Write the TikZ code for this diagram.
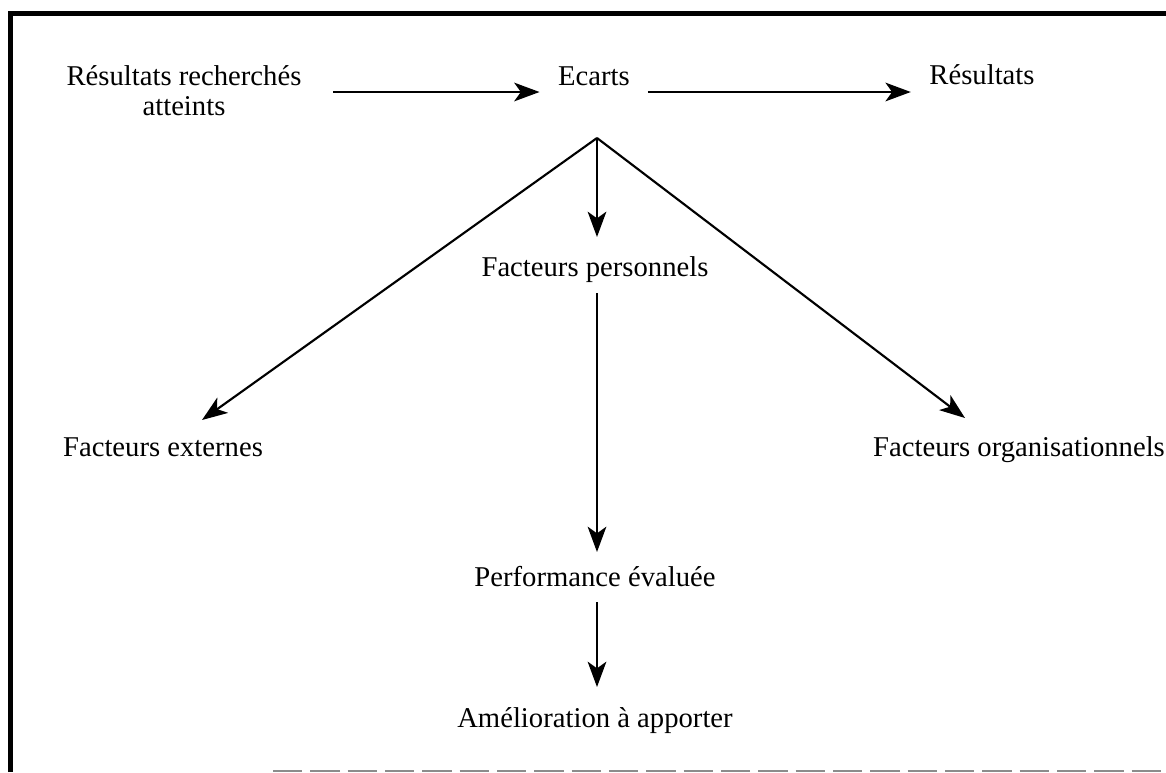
\documentclass[tikz,border=0pt]{standalone}
\usepackage{fontspec}
\setmainfont{Liberation Serif}
\usetikzlibrary{arrows.meta}
\begin{document}
\begin{tikzpicture}[x=0.75pt,y=-0.75pt,
  lbl/.style={inner sep=0pt,outer sep=0pt,font=\fontsize{21.5}{22.5}\selectfont},
  single/.style={lbl,text height=15pt,text depth=4.5pt,anchor=base},
  arr/.style={line width=1.6pt,-{Stealth[length=19pt,width=14pt,inset=5pt]}},
  frame/.style={line width=3.75pt},
  tornline/.style={line width=1.5pt,draw=black!45,dash pattern=on 22pt off 6pt}]
\useasboundingbox[fill=white] (0,0) rectangle (1166,772);

% frame: thick top and left edges, faint broken bottom edge
\draw[frame] (10.5,772) -- (10.5,13) -- (1166,13);
\draw[tornline] (273,770.5) -- (1166,770.5);

% labels
\node[lbl,anchor=base] (res) at (184,85)
  {\begin{tabular}[t]{@{}c@{}}Résultats recherchés\\atteints\end{tabular}};
\node[single] (ecarts) at (594,85) {Ecarts};
\node[single] (resu) at (982,84) {Résultats};
\node[single] (pers) at (595,276) {Facteurs personnels};
\node[single] (ext) at (163,456) {Facteurs externes};
\node[single] (org) at (1019,456) {Facteurs organisationnels};
\node[single] (perf) at (595,586) {Performance évaluée};
\node[single] (amel) at (595,727) {Amélioration à apporter};

% helper points
\coordinate (row) at (0,92);
\coordinate (apex) at (597,138);
\coordinate (tipL) at (202,420);
\coordinate (tipR) at (965,418);

% connectors
\draw[arr,shorten <=24pt,shorten >=14pt] (res.east |- row) -- (ecarts.west |- row);
\draw[arr,shorten <=13.5pt,shorten >=14pt] (ecarts.east |- row) -- (resu.west |- row);
\draw[arr] (apex) -- (tipL);
\draw[arr] (apex) -- (tipR);
\draw[arr,shorten >=14.25pt] (apex) -- (apex |- pers.north);
\draw[arr,shorten <=8.25pt,shorten >=10.5pt] (pers.south -| apex) -- (perf.north -| apex);
\draw[arr,shorten <=7.5pt,shorten >=15pt] (perf.south -| apex) -- (amel.north -| apex);
\end{tikzpicture}
\end{document}
